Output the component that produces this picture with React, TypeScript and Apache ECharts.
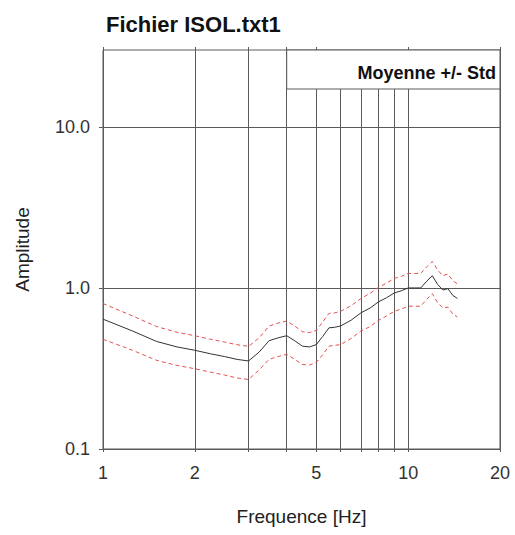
import React, { useEffect, useRef } from "react";
import * as echarts from "echarts";

// Spectral ratio: mean amplitude and standard deviation per frequency
const FREQ = [1, 1.25, 1.5, 1.75, 2, 2.25, 2.5, 2.75, 3, 3.25, 3.5, 3.75, 4, 4.25, 4.5, 4.75, 5, 5.25, 5.5, 5.75, 6, 6.5, 7, 7.5, 8, 8.5, 9, 9.5, 10, 10.5, 11, 11.5, 12, 12.5, 13, 13.5, 14, 14.5];
const MEAN = [0.64, 0.54, 0.465, 0.43, 0.41, 0.39, 0.375, 0.36, 0.352, 0.4, 0.47, 0.49, 0.505, 0.47, 0.435, 0.43, 0.445, 0.5, 0.565, 0.57, 0.58, 0.63, 0.7, 0.75, 0.82, 0.87, 0.93, 0.96, 1.0, 1.0, 1.0, 1.1, 1.19, 1.05, 0.97, 0.99, 0.9, 0.86];
const STD = [0.16, 0.13, 0.11, 0.1, 0.095, 0.09, 0.087, 0.084, 0.082, 0.09, 0.11, 0.115, 0.118, 0.11, 0.1, 0.098, 0.1, 0.115, 0.13, 0.13, 0.135, 0.145, 0.16, 0.175, 0.19, 0.2, 0.215, 0.22, 0.23, 0.23, 0.23, 0.25, 0.27, 0.24, 0.22, 0.23, 0.21, 0.2];

const X_LABELS = [1, 2, 5, 10, 20];
const X_GRID = [1, 2, 3, 4, 5, 6, 7, 8, 9, 10, 20];
const X_TOP_TICKS = [1, 2, 3, 4, 5, 10, 20];
const Y_LABELS = [0.1, 1, 10];

const TITLE = "Fichier ISOL.txt1";
const LEGEND_TEXT = "Moyenne +/- Std";

const FONT = "'Liberation Sans', Arial, sans-serif";
const GRID_COLOR = "#5a5a5a";

export default function App() {
  const ref = useRef<HTMLDivElement>(null);

  useEffect(() => {
    if (!ref.current) return;
    const chart = echarts.init(ref.current, null, { renderer: "svg" });

    const meanData = FREQ.map((f, i) => [f, MEAN[i]]);
    const upperData = FREQ.map((f, i) => [f, MEAN[i] + STD[i]]);
    const lowerData = FREQ.map((f, i) => [f, MEAN[i] - STD[i]]);

    const dashed = {
      type: "line",
      showSymbol: false,
      symbol: "none",
      lineStyle: { color: "#e55050", width: 1, type: [4, 3] },
      z: 3,
    };

    chart.setOption({
      animation: false,
      backgroundColor: "#ffffff",
      textStyle: { fontFamily: FONT },
      title: {
        text: TITLE,
        left: 101,
        top: 8,
        textStyle: { fontSize: 22, fontWeight: "bold", color: "#111", fontFamily: FONT },
      },
      grid: {
        left: 103,
        right: 15,
        top: 50,
        bottom: 86,
        show: true,
        borderColor: GRID_COLOR,
        borderWidth: 1,
        backgroundColor: "transparent",
      },
      xAxis: [
        {
          type: "log",
          logBase: 10,
          min: 1,
          max: 20,
          name: "Frequence [Hz]",
          nameLocation: "middle",
          nameGap: 58,
          nameTextStyle: { fontSize: 19, color: "#222", fontFamily: FONT },
          axisLine: { show: true, lineStyle: { color: GRID_COLOR } },
          axisTick: { show: true, inside: false, length: 3, customValues: X_GRID, lineStyle: { color: GRID_COLOR } },
          axisLabel: {
            customValues: X_LABELS,
            fontSize: 18,
            color: "#333",
            margin: 15,
            fontFamily: FONT,
            formatter: (v: number) => String(Math.round(v)),
          },
          splitLine: { show: true, lineStyle: { color: GRID_COLOR, width: 1 } },
          minorTick: { show: false },
          minorSplitLine: { show: false },
        },
        {
          type: "log",
          logBase: 10,
          min: 1,
          max: 20,
          position: "top",
          axisLine: { show: false },
          axisTick: { show: true, inside: false, length: 3, customValues: X_TOP_TICKS, lineStyle: { color: GRID_COLOR } },
          axisLabel: { show: false },
          splitLine: { show: false },
        },
      ],
      yAxis: {
        type: "log",
        logBase: 10,
        min: 0.1,
        max: 30,
        name: "Amplitude",
        nameLocation: "middle",
        nameGap: 71,
        nameRotate: 90,
        nameTextStyle: { fontSize: 19, color: "#222", fontFamily: FONT },
        axisLine: { show: true, lineStyle: { color: GRID_COLOR } },
        axisTick: { show: true, inside: false, length: 4, customValues: Y_LABELS, lineStyle: { color: GRID_COLOR } },
        axisLabel: {
          customValues: Y_LABELS,
          fontSize: 18,
          color: "#333",
          margin: 13,
          fontFamily: FONT,
          formatter: (v: number) => v.toFixed(1),
        },
        splitLine: { show: true, lineStyle: { color: GRID_COLOR, width: 1 } },
        minorTick: { show: false },
        minorSplitLine: { show: false },
      },
      series: [
        { ...dashed, name: "upper", data: upperData },
        { ...dashed, name: "lower", data: lowerData },
        {
          type: "line",
          name: "mean",
          showSymbol: false,
          symbol: "none",
          lineStyle: { color: "#333", width: 1 },
          data: meanData,
          z: 4,
        },
      ],
    });

    // Legend box spanning from the 4 Hz grid line to the right border
    const [xLeft, yTop] = chart.convertToPixel({ gridIndex: 0 }, [4, 30]) as number[];
    const [xRight] = chart.convertToPixel({ gridIndex: 0 }, [20, 30]) as number[];
    const boxH = 39;
    chart.setOption({
      graphic: [
        {
          type: "rect",
          z: 100,
          shape: { x: xLeft, y: yTop, width: xRight - xLeft, height: boxH },
          style: { fill: "#ffffff", stroke: GRID_COLOR, lineWidth: 1 },
        },
        {
          type: "text",
          z: 101,
          x: xRight - 4,
          y: yTop + boxH / 2 + 3,
          style: {
            text: LEGEND_TEXT,
            align: "right",
            verticalAlign: "middle",
            fontSize: 18,
            fontWeight: "bold",
            fontFamily: FONT,
            fill: "#111",
          },
        },
      ],
    });

    return () => chart.dispose();
  }, []);

  return (
    <div
      ref={ref}
      style={{ position: "absolute", left: 0, top: 0, width: 515, height: 535 }}
    />
  );
}
